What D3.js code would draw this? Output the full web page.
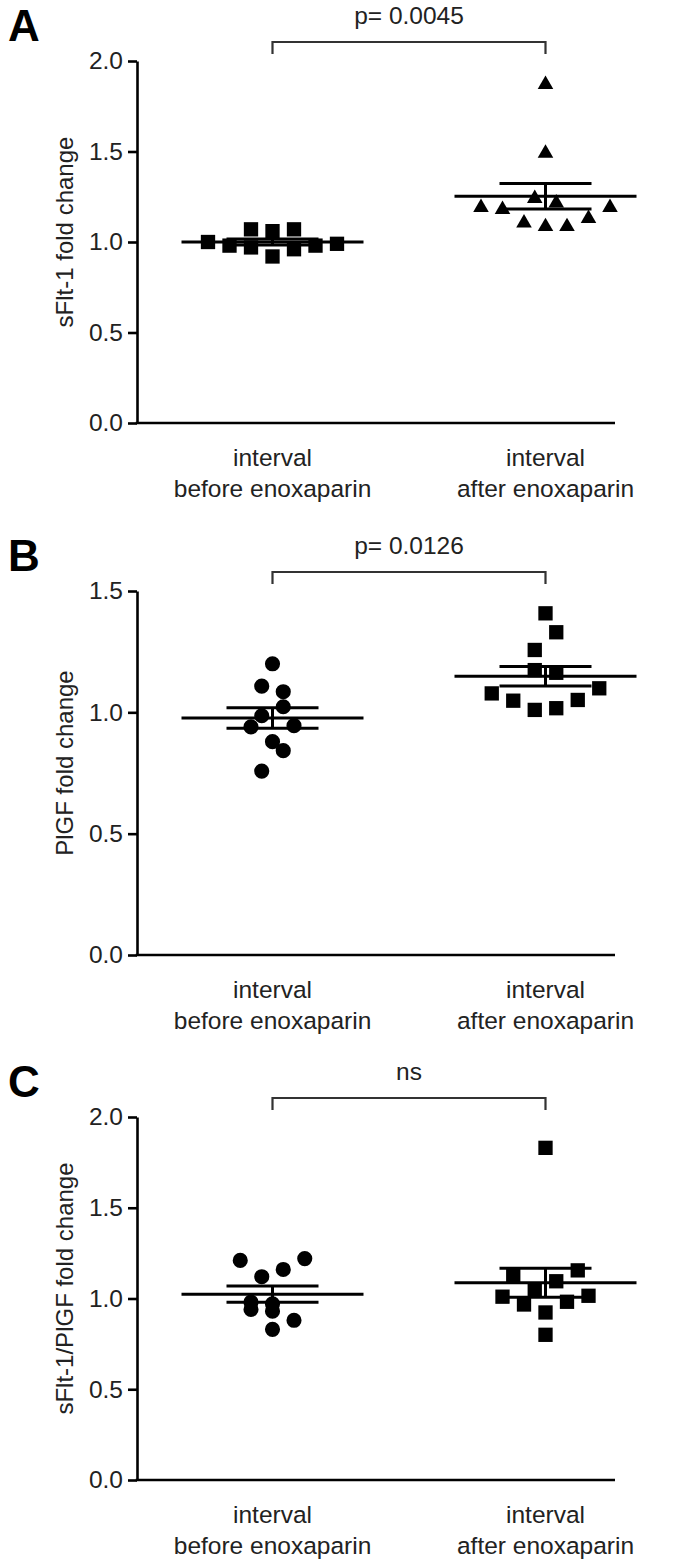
<!DOCTYPE html>
<html>
<head>
<meta charset="utf-8">
<script src="https://cdn.jsdelivr.net/npm/d3@7"></script>
<style>
  body { margin: 0; background: #fff; }
  svg { display: block; font-family: "Liberation Sans", Arial, sans-serif; }
</style>
</head>
<body>
<svg id="chart" width="689" height="1561"></svg>
<script>
// ---- data ----
const categories = ["before", "after"];
const categoryLines = [["interval", "before enoxaparin"], ["interval", "after enoxaparin"]];
const panelLetters = ["A", "B", "C"];
const yTitles = ["sFlt-1 fold change", "PlGF fold change", "sFlt-1/PlGF fold change"];
const pLabels = ["p= 0.0045", "p= 0.0126", "ns"];
const yTicksA = [0, 0.5, 1.0, 1.5, 2.0];
const yTicksB = [0, 0.5, 1.0, 1.5];
const yTicksC = [0, 0.5, 1.0, 1.5, 2.0];

// A: sFlt-1
const sfltBefore = [1.00, 0.98, 1.07, 0.97, 1.06, 0.92, 1.07, 0.96, 0.98, 0.99];
const sfltBeforeSlot = [-6, -4, -2, -2, 0, 0, 2, 2, 4, 6];
const sfltAfter = [1.87, 1.49, 1.19, 1.18, 1.24, 1.215, 1.105, 1.085, 1.085, 1.13, 1.19];
const sfltAfterSlot = [0, 0, -6, -4, -1, 1, -2, 0, 2, 4, 6];

// B: PlGF
const plgfBefore = [1.20, 1.108, 1.085, 1.023, 0.986, 0.94, 0.945, 0.879, 0.842, 0.758];
const plgfBeforeSlot = [0, -1, 1, 1, -1, -2, 2, 0, 1, -1];
const plgfAfter = [1.408, 1.33, 1.257, 1.174, 1.163, 1.078, 1.048, 1.01, 1.017, 1.051, 1.099];
const plgfAfterSlot = [0, 1, -1, -1, 1, -5, -3, -1, 1, 3, 5];

// C: sFlt-1/PlGF
const ratioBefore = [1.21, 1.22, 1.16, 1.12, 0.98, 0.97, 0.94, 0.93, 0.88, 0.83];
const ratioBeforeSlot = [-3, 3, 1, -1, -2, 0, -2, 0, 2, 0];
const ratioAfter = [1.83, 1.13, 1.155, 1.095, 1.045, 1.01, 0.967, 0.982, 1.015, 0.923, 0.80];
const ratioAfterSlot = [0, -3, 3, 1, -1, -4, -2, 2, 4, 0, 0];

const panels = [
  { letter: panelLetters[0], title: yTitles[0], p: pLabels[0], ticks: yTicksA,
    top: 61, bottom: 423,
    groups: [{ values: sfltBefore, slots: sfltBeforeSlot, shape: d3.symbolSquare },
             { values: sfltAfter, slots: sfltAfterSlot, shape: d3.symbolTriangle }] },
  { letter: panelLetters[1], title: yTitles[1], p: pLabels[1], ticks: yTicksB,
    top: 591, bottom: 955,
    groups: [{ values: plgfBefore, slots: plgfBeforeSlot, shape: d3.symbolCircle },
             { values: plgfAfter, slots: plgfAfterSlot, shape: d3.symbolSquare }] },
  { letter: panelLetters[2], title: yTitles[2], p: pLabels[2], ticks: yTicksC,
    top: 1117, bottom: 1480,
    groups: [{ values: ratioBefore, slots: ratioBeforeSlot, shape: d3.symbolCircle },
             { values: ratioAfter, slots: ratioAfterSlot, shape: d3.symbolSquare }] }
];

const symbolSize = new Map([
  [d3.symbolSquare, 205],
  [d3.symbolTriangle, 105],
  [d3.symbolCircle, 180]
]);

const svg = d3.select("#chart");
const axisLeftX = 137;
const axisRightX = 615;
const fontSize = "24.5px";

const x = d3.scaleBand().domain(categories).range([136, 682]);
const slotX = d3.scaleLinear().domain([0, 1]).range([0, 10.75]);

panels.forEach(panel => {
  const g = svg.append("g");
  const y = d3.scaleLinear()
    .domain([0, d3.max(panel.ticks)])
    .range([panel.bottom, panel.top]);

  // y axis
  const yAxis = d3.axisLeft(y)
    .tickValues(panel.ticks)
    .tickFormat(d3.format(".1f"))
    .tickSize(9)
    .tickPadding(5)
    .tickSizeOuter(0);

  const yg = g.append("g")
    .attr("transform", "translate(" + axisLeftX + ",0)")
    .call(yAxis);
  yg.select(".domain").attr("stroke", "#000").attr("stroke-width", 2.6);
  yg.selectAll(".tick line").attr("stroke", "#000").attr("stroke-width", 2.6);
  yg.selectAll(".tick text")
    .attr("fill", "#222")
    .style("font-size", fontSize)
    .style("font-family", "'Liberation Sans', Arial, sans-serif");

  // x axis line
  g.append("line")
    .attr("x1", axisLeftX - 1.3).attr("x2", axisRightX)
    .attr("y1", panel.bottom).attr("y2", panel.bottom)
    .attr("stroke", "#000").attr("stroke-width", 2.6);

  // category labels
  const xg = g.append("g")
    .attr("transform", "translate(0," + panel.bottom + ")")
    .call(d3.axisBottom(x).tickSize(0).tickFormat(""));
  xg.select(".domain").remove();
  xg.selectAll(".tick").each(function (d, i) {
    const t = d3.select(this).append("text")
      .attr("text-anchor", "middle")
      .attr("fill", "#222")
      .style("font-size", fontSize);
    categoryLines[i].forEach((line, k) => {
      t.append("tspan").attr("x", 0).attr("y", 43 + k * 31).text(line);
    });
  });

  // y title
  g.append("text")
    .attr("transform", "translate(73," + ((panel.top + panel.bottom) / 2 - 10) + ") rotate(-90)")
    .attr("text-anchor", "middle")
    .attr("fill", "#222")
    .style("font-size", "24px")
    .text(panel.title);

  // panel letter
  g.append("text")
    .attr("x", 8).attr("y", panel.top - 20)
    .attr("fill", "#000")
    .style("font-size", "44px")
    .style("font-weight", "bold")
    .text(panel.letter);

  // significance bracket
  const bx0 = x(categories[0]) + x.bandwidth() / 2;
  const bx1 = x(categories[1]) + x.bandwidth() / 2;
  const by = panel.top - 19;
  g.append("path")
    .attr("d", d3.line()([[bx0, by + 12], [bx0, by], [bx1, by], [bx1, by + 12]]))
    .attr("fill", "none")
    .attr("stroke", "#333")
    .attr("stroke-width", 2.2);
  g.append("text")
    .attr("x", (bx0 + bx1) / 2).attr("y", panel.top - 37)
    .attr("text-anchor", "middle")
    .attr("fill", "#222")
    .style("font-size", fontSize)
    .text(panel.p);

  // points + mean ± SEM
  panel.groups.forEach((grp, gi) => {
    const cx = x(categories[gi]) + x.bandwidth() / 2;
    const sym = d3.symbol().type(grp.shape).size(symbolSize.get(grp.shape));
    const pts = grp.values.map((v, i) => ({ v, s: grp.slots[i] }));

    g.append("g").selectAll("path")
      .data(pts)
      .enter()
      .append("path")
      .attr("d", sym)
      .attr("transform", d => "translate(" + (cx + slotX(d.s)) + "," + y(d.v) + ")")
      .attr("fill", "#000");

    const mean = d3.mean(grp.values);
    const sem = d3.deviation(grp.values) / Math.sqrt(grp.values.length);
    const eb = g.append("g").attr("stroke", "#000").attr("stroke-width", 3);
    eb.append("line")
      .attr("x1", cx - 91).attr("x2", cx + 91)
      .attr("y1", y(mean)).attr("y2", y(mean));
    [mean - sem, mean + sem].forEach(v => {
      eb.append("line")
        .attr("x1", cx - 46).attr("x2", cx + 46)
        .attr("y1", y(v)).attr("y2", y(v));
    });
    eb.append("line")
      .attr("x1", cx).attr("x2", cx)
      .attr("y1", y(mean - sem)).attr("y2", y(mean + sem));
  });
});
</script>
</body>
</html>
